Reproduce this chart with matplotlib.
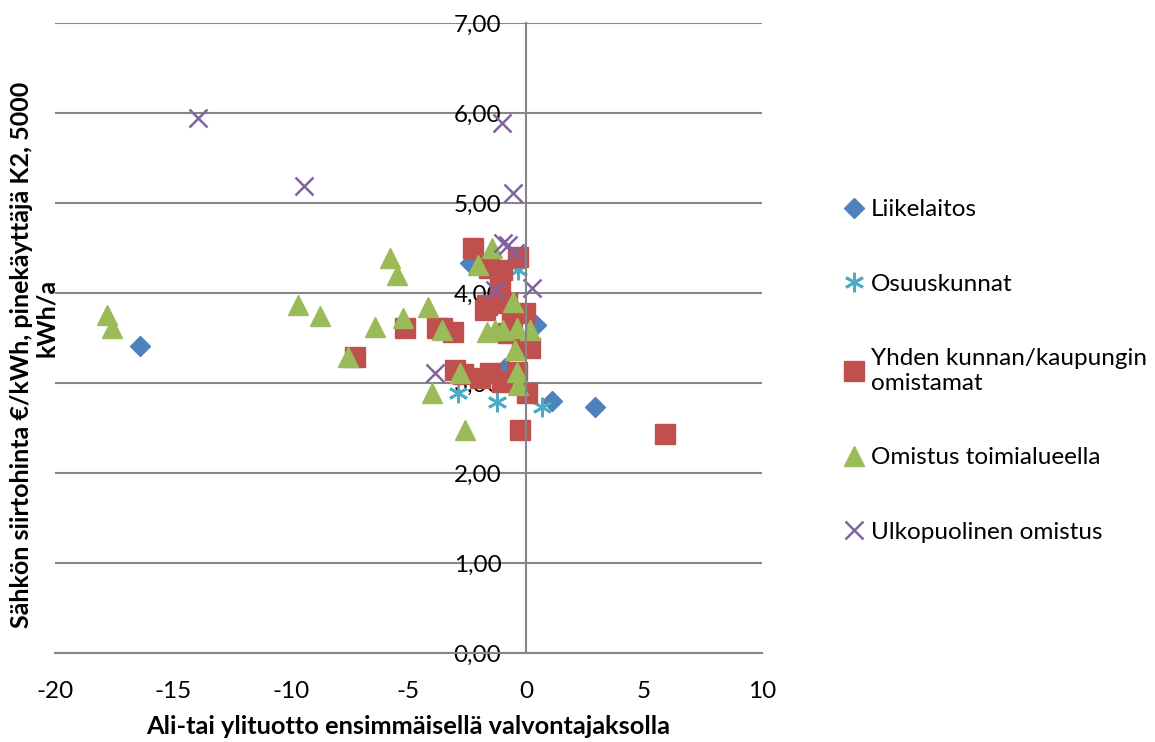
import matplotlib.pyplot as plt

plt.rcParams['font.family'] = ['Lato', 'DejaVu Sans']
plt.rcParams['axes.unicode_minus'] = False

# ownership groups: x = ali-/ylituotto, y = siirtohinta
liike_x = [-16.4, -2.4, 0.4, -0.9, 1.1, 2.9]
liike_y = [3.41, 4.33, 3.64, 3.17, 2.80, 2.73]

osuus_x = [-2.9, -1.25, 0.66, -0.35]
osuus_y = [2.89, 2.79, 2.73, 4.26]

kunta_x = [-2.25, -0.35, -1.6, -1.03, -1.12, -1.67, -0.82, -1.75, -0.05, -0.6,
           -0.77, -0.18, 0.16, -0.39, -1.54, -1.97, -1.03, 0.03, -0.27, 5.88,
           -3.57, -3.1, -3.8, -5.15, -7.26, -3.02, -2.7]
kunta_y = [4.50, 4.40, 4.28, 4.26, 4.09, 3.87, 3.89, 3.81, 3.78, 3.70,
           3.56, 3.44, 3.39, 3.12, 3.11, 3.06, 3.01, 2.89, 2.48, 2.43,
           3.61, 3.57, 3.61, 3.61, 3.29, 3.14, 3.10]

toimi_x = [-17.79, -17.58, -9.69, -8.76, -5.79, -5.49, -6.42, -7.57, -5.23, -4.17,
           -4.0, -3.57, -2.8, -2.6, -1.45, -2.05, -0.56, -1.67, -1.33, -0.99,
           -0.39, 0.16, -0.48, -0.39, -0.35]
toimi_y = [3.76, 3.61, 3.87, 3.74, 4.39, 4.20, 3.62, 3.29, 3.72, 3.84,
           2.89, 3.59, 3.11, 2.48, 4.50, 4.31, 3.90, 3.57, 3.59, 3.59,
           3.61, 3.59, 3.37, 3.12, 2.98]

ulko_x = [-13.93, -9.43, -1.03, -0.56, -0.99, -0.78, -0.48, -1.33, 0.24, -3.88]
ulko_y = [5.94, 5.19, 5.89, 5.11, 4.56, 4.53, 4.44, 4.03, 4.06, 3.11]

fig = plt.figure(figsize=(11.55, 7.42), dpi=100)
ax = fig.add_axes([55/1155, 1-653/742, 707/1155, 630/742])

grey = '#868686'
ax.plot(liike_x, liike_y, 'D', ms=10, color='#4F81BD', mec='#4F81BD', label='Liikelaitos')
ax.plot(osuus_x, osuus_y, ls='none', marker=(6, 2, 0), ms=14, mew=2, color='#4BACC6',
        label='Osuuskunnat')
ax.plot(kunta_x, kunta_y, 's', ms=14, color='#C0504D', label='Yhden kunnan/kaupungin\nomistamat')
ax.plot(toimi_x, toimi_y, '^', ms=14, color='#9BBB59', label='Omistus toimialueella')
ax.plot(ulko_x, ulko_y, 'x', ms=13, mew=1.8, color='#8064A2', label='Ulkopuolinen omistus')

ax.set_xlim(-20, 10)
ax.set_ylim(0, 7)
ax.set_xticks(range(-20, 11, 5))
ax.set_yticks(range(0, 8))
ax.set_yticklabels([f'{v},00' for v in range(0, 8)])

ax.spines['left'].set_position(('data', 0))
ax.spines['top'].set_visible(False)
ax.spines['right'].set_visible(False)
for s in ('left', 'bottom'):
    ax.spines[s].set_color(grey)
    ax.spines[s].set_linewidth(1.5)
ax.yaxis.grid(True, color=grey, lw=1.5)
ax.set_axisbelow(True)
ax.tick_params(axis='both', length=0, labelsize=17.5)
ax.tick_params(axis='y', pad=18)
ax.tick_params(axis='x', pad=20)

# y title wraps onto two lines
fig.text(22/1155, 1-355/742, 'Sähkön siirtohinta €/kWh, pinekäyttäjä K2, 5000',
         rotation=90, ha='center', va='center', fontsize=18, fontweight='bold')
fig.text(46/1155, 1-318/742, 'kWh/a',
         rotation=90, ha='center', va='center', fontsize=18, fontweight='bold')
fig.text(408/1155, 1-727/742, 'Ali-tai ylituotto ensimmäisellä valvontajaksolla',
         ha='center', va='center', fontsize=18.3, fontweight='bold')

fig.legend(loc='center left', bbox_to_anchor=(844/1155, 0.5), frameon=False,
           fontsize=17.5, handlelength=0.8, handletextpad=0.3, labelspacing=2.2,
           borderpad=0, borderaxespad=0, numpoints=1)

fig.savefig('out.png', dpi=100)
